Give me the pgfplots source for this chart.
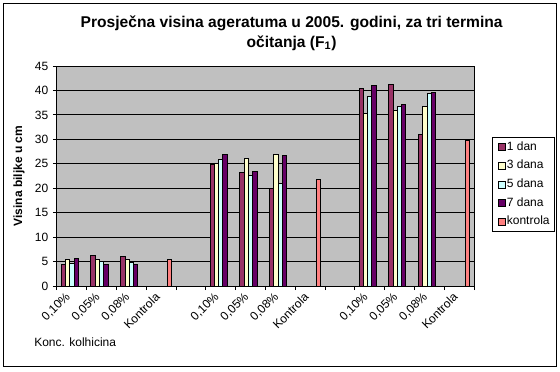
\documentclass[border=0pt]{standalone}
\usepackage{pgfplots}
\pgfplotsset{compat=1.18}
\usepackage{fontspec}
\setmainfont{Liberation Sans}
\definecolor{c1}{HTML}{993366}
\definecolor{c3}{HTML}{FFFFCC}
\definecolor{c5}{HTML}{CCFFFF}
\definecolor{c7}{HTML}{660066}
\definecolor{ck}{HTML}{FF8080}
\definecolor{plotgray}{HTML}{C0C0C0}
\begin{document}
\begin{tikzpicture}[x=1pt,y=1pt]
\useasboundingbox (-42.75,-63.75) rectangle (377.25,214.5);
\draw[line width=0.75pt] (-39.75,-60) rectangle (374.25,211.5);
\begin{axis}[
  at={(0,0)}, anchor=south west,
  scale only axis, width=312.75pt, height=165pt,
  xmin=-0.5, xmax=13.5, ymin=0, ymax=45,
  ytick={0,5,...,45},
  xtick={-0.5,0.5,...,13.5},
  xticklabels={{0,10\%},{0,05\%},{0,08\%},Kontrola,{},{0,10\%},{0,05\%},{0,08\%},Kontrola,{},{0,10\%},{0,05\%},{0,08\%},Kontrola,{}},
  xtick pos=bottom, ytick pos=left,
  tick align=outside, major tick length=3pt,
  every tick/.style={black, line width=0.75pt},
  ymajorgrids, grid style={black, line width=0.75pt},
  axis background/.style={fill=plotgray},
  axis line style={black, line width=0.75pt},
  x tick label style={xshift=9.2pt, yshift=-3pt, rotate=45, anchor=east, font=\fontsize{9}{10}\selectfont, inner sep=1pt},
  y tick label style={font=\fontsize{9}{10}\selectfont},
  /pgf/number format/assume math mode=true,
  ybar=0pt, bar width=0.144,
  every axis plot post/.append style={draw=black, line width=0.75pt,
    legend image code/.code={\draw[##1, line width=0.6pt] (0pt,-2.6pt) rectangle (5.2pt,2.6pt);}},
  legend style={at={(1,0.5)}, anchor=west, xshift=13.5pt, yshift=-6.4pt,
    draw=black, line width=0.75pt, fill=white,
    font=\fontsize{9}{10}\selectfont,
    inner xsep=4pt, inner ysep=3.3pt, row sep=5.6pt, column sep=1pt,
    nodes={inner sep=0pt, text height=6.5pt, text depth=1.9pt}},
  legend cell align=left,
]
\addplot[fill=c1] coordinates {(0,4.5) (1,6.2) (2,6.0) (5,24.8) (6,23.2) (7,20.0) (10,40.3) (11,41.3) (12,31.0)};
\addplot[fill=c3] coordinates {(0,5.35) (1,5.35) (2,5.35) (5,25.0) (6,26.0) (7,26.8) (10,35.2) (11,36.0) (12,36.8)};
\addplot[fill=c5] coordinates {(0,4.7) (1,5.07) (2,4.9) (5,25.8) (6,22.6) (7,21.0) (10,38.8) (11,36.8) (12,39.45)};
\addplot[fill=c7] coordinates {(0,5.55) (1,4.3) (2,4.5) (5,27.0) (6,23.4) (7,26.6) (10,41.1) (11,37.2) (12,39.65)};
\addplot[fill=ck] coordinates {(3,5.35) (8,21.8) (13,29.8)};
\legend{1 dan,3 dana,5 dana,7 dana,kontrola}
\end{axis}
\node[font=\bfseries\fontsize{11.7}{15}\selectfont, align=center] at (176,189.5)
  {Prosječna visina ageratuma u 2005. godini, za tri termina\\očitanja (F\textsubscript{1})};
\node[rotate=90, font=\bfseries\fontsize{9}{10}\selectfont] at (-28.5,82.5) {Visina biljke u cm};
\node[anchor=west, font=\fontsize{9}{10}\selectfont, inner sep=0pt] at (-17.25,-42) {Konc. kolhicina};
\end{tikzpicture}
\end{document}
